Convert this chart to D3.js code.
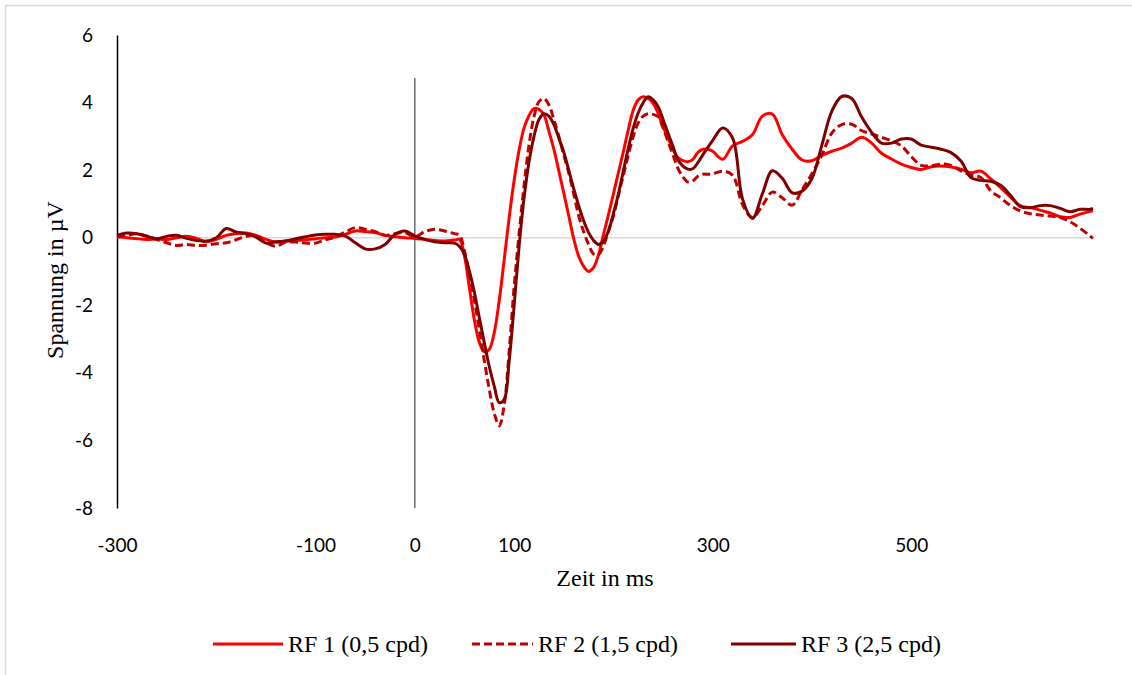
<!DOCTYPE html>
<html lang="de">
<head>
    <meta charset="UTF-8">
    <title>RF Potentiale</title>
    <script src="https://d3js.org/d3.v7.min.js"></script>
    <style>
        body { margin: 0; background: #fff; }
        svg { display: block; }
    </style>
</head>
<body>
    <div id="chart"></div>
    <script>
        // Zeitpunkte in ms
        var times = [
            -300, -290, -280, -270, -260, -250, -240, -230, -220, -210,
            -200, -190, -180, -170, -160, -150, -140, -130, -120, -110,
            -100, -90, -80, -70, -60, -50, -40, -30, -20, -10,
            0, 10, 20, 30, 40,
            45, 50, 55, 60, 65, 70, 75, 80, 85, 90, 95, 100,
            105, 110, 115, 120, 125, 130, 135, 140, 145, 150,
            155, 160, 165, 170, 175, 180, 185, 190, 195, 200,
            205, 210, 215, 220, 225, 230, 235, 240, 245, 250,
            255, 260, 265, 270, 275, 280, 285, 290, 295, 300,
            310, 320, 330, 340, 350, 360, 370, 380, 390, 400,
            410, 420, 430, 440, 450, 460, 470, 480, 490, 500,
            510, 520, 530, 540, 550, 560, 570, 580, 590, 600,
            610, 620, 630, 640, 650, 660, 670, 680,
            683
        ];

        var rf1 = [
            0.02, 0.0, -0.03, -0.05, -0.04, -0.05, 0.0, 0.04, -0.02, -0.12,
            -0.05, 0.07, 0.12, 0.14, 0.07, -0.05, -0.13, -0.1, -0.08, -0.06,
            -0.03, 0.0, 0.02, 0.1, 0.2, 0.18, 0.15, 0.07, 0.03, 0.0,
            -0.02, -0.05, -0.08, -0.1, -0.07,
            -0.05, -0.55, -1.5, -2.45, -3.1, -3.38, -3.3, -2.8, -1.85, -0.65, 0.6, 1.7,
            2.6, 3.25, 3.62, 3.82, 3.8, 3.64, 3.15, 2.62, 1.98, 1.32,
            0.65, -0.03, -0.55, -0.85, -1.0, -0.88, -0.5, 0.1, 0.68, 1.3,
            1.93, 2.55, 3.2, 3.78, 4.08, 4.17, 4.12, 3.98, 3.68, 3.29,
            2.95, 2.62, 2.37, 2.28, 2.25, 2.32, 2.52, 2.62, 2.62, 2.56,
            2.32, 2.72, 2.85, 3.05, 3.6, 3.66, 3.05, 2.62, 2.3, 2.28,
            2.44, 2.56, 2.65, 2.8, 2.97, 2.8, 2.5, 2.33, 2.18, 2.08,
            2.02, 2.1, 2.12, 2.09, 2.03, 1.92, 1.97, 1.74, 1.48, 1.2,
            0.94, 0.89, 0.81, 0.73, 0.62, 0.6, 0.7, 0.78,
            0.8
        ];

        var rf2 = [
            0.04, 0.07, 0.12, 0.05, -0.05, -0.15, -0.23, -0.2, -0.23, -0.22,
            -0.18, -0.15, -0.06, 0.04, 0.05, -0.15, -0.25, -0.13, -0.13, -0.16,
            -0.16, -0.06, 0.02, 0.17, 0.3, 0.25, 0.18, 0.07, 0.12, 0.15,
            0.03, 0.18, 0.25, 0.2, 0.12,
            0.08, -0.4, -1.1, -1.85, -2.75, -3.65, -4.5, -5.2, -5.57, -4.95, -3.35, -1.45,
            0.12, 1.55, 2.75, 3.58, 4.03, 4.12, 3.93, 3.5, 3.0, 2.45,
            1.92, 1.3, 0.65, 0.18, -0.2, -0.48, -0.5, -0.24, 0.2, 0.65,
            1.25, 1.85, 2.45, 3.0, 3.4, 3.6, 3.67, 3.65, 3.58, 3.25,
            2.85, 2.45, 2.05, 1.8, 1.65, 1.68, 1.82, 1.88, 1.88, 1.89,
            1.97, 1.85, 0.98, 0.6, 0.95, 1.35, 1.18, 0.96, 1.42, 1.9,
            2.45, 3.1, 3.35, 3.36, 3.17, 3.07, 2.97, 2.87, 2.72, 2.4,
            2.14, 2.13, 2.18, 2.14, 1.98, 1.85, 1.78, 1.39, 1.18, 0.95,
            0.79, 0.71, 0.67, 0.64, 0.6, 0.47, 0.28, 0.05,
            -0.02
        ];

        var rf3 = [
            0.07, 0.14, 0.12, 0.04, -0.03, 0.04, 0.07, -0.02, -0.08, -0.1,
            0.0, 0.27, 0.17, 0.12, 0.02, -0.16, -0.12, -0.1, -0.03, 0.03,
            0.08, 0.1, 0.1, 0.05, -0.15, -0.33, -0.33, -0.2, 0.1, 0.2,
            0.05, -0.05, -0.12, -0.15, -0.16,
            -0.26, -0.5, -1.0, -1.62, -2.38, -3.12, -3.82, -4.4, -4.88, -4.78, -3.65, -2.0,
            -0.25, 1.18, 2.25, 3.0, 3.5, 3.67, 3.6, 3.35, 2.95, 2.53,
            2.0, 1.45, 0.95, 0.5, 0.15, -0.08, -0.2, -0.1, 0.2, 0.72,
            1.3, 1.98, 2.65, 3.25, 3.7, 4.0, 4.17, 4.08, 3.88, 3.5,
            3.09, 2.7, 2.3, 2.12, 2.03, 2.04, 2.22, 2.45, 2.67, 2.88,
            3.25, 2.95, 1.15, 0.57, 1.3, 1.98, 1.76, 1.33, 1.38, 1.76,
            2.75, 3.75, 4.18, 4.12, 3.57, 3.12, 2.8, 2.8, 2.92, 2.92,
            2.74, 2.68, 2.62, 2.52, 2.27, 1.78, 1.7, 1.67, 1.55, 1.25,
            0.92, 0.89, 0.95, 0.95, 0.87, 0.77, 0.84, 0.84,
            0.87
        ];

        var seriesNames = ['RF 1 (0,5 cpd)', 'RF 2 (1,5 cpd)', 'RF 3 (2,5 cpd)'];
        var seriesColors = ['#ff0000', '#c00000', '#800000'];
        var seriesDash = [null, '8,4', null];
        var xTicks = [-300, -100, 0, 100, 300, 500];
        var yTicks = [-8, -6, -4, -2, 0, 2, 4, 6];

        var width = 1132, height = 675;

        var svg = d3.select('#chart')
            .append('svg')
            .attr('width', width)
            .attr('height', height);

        // Rahmen (nur links/oben sichtbar)
        svg.append('rect')
            .attr('x', 5.5)
            .attr('y', 5.5)
            .attr('width', 1200)
            .attr('height', 800)
            .attr('fill', 'none')
            .attr('stroke', '#d9d9d9')
            .attr('stroke-width', 1.5);

        var x = d3.scaleLinear().domain([-300, 683]).range([117, 1093]);
        var y = d3.scaleLinear().domain([-8, 6]).range([508, 35]);

        // plain hyphen like the original, not the unicode minus
        var plain = function(d) { return String(d); };

        // Nulllinie
        svg.append('line')
            .attr('x1', x(-300)).attr('x2', x(683))
            .attr('y1', y(0)).attr('y2', y(0))
            .attr('stroke', '#d9d9d9')
            .attr('stroke-width', 1.5);

        // y-Achse
        var yAxis = svg.append('g')
            .attr('transform', 'translate(' + x(-300) + ',0)')
            .call(d3.axisLeft(y).tickValues(yTicks).tickFormat(plain).tickSize(0).tickPadding(24));
        yAxis.select('.domain').attr('stroke', '#000').attr('stroke-width', 1.5);
        yAxis.selectAll('text')
            .attr('font-family', 'Lato, sans-serif')
            .attr('font-size', 19)
            .attr('fill', '#000');

        // x-Achsenbeschriftung (unten)
        var xAxis = svg.append('g')
            .attr('transform', 'translate(0,' + 531 + ')')
            .call(d3.axisBottom(x).tickValues(xTicks).tickFormat(plain).tickSize(0).tickPadding(8));
        xAxis.select('.domain').remove();
        xAxis.selectAll('text')
            .attr('font-family', 'Lato, sans-serif')
            .attr('font-size', 19)
            .attr('fill', '#000');

        // Linie bei 0 ms
        svg.append('line')
            .attr('x1', x(0)).attr('x2', x(0))
            .attr('y1', y(4.73)).attr('y2', y(-8))
            .attr('stroke', '#222')
            .attr('stroke-width', 1);

        var line = d3.line()
            .x(function(d) { return x(d[0]); })
            .y(function(d) { return y(d[1]); })
            .curve(d3.curveCatmullRom);

        var allSeries = [rf1, rf2, rf3];
        allSeries.forEach(function(vals, i) {
            var pts = times.map(function(t, j) { return [t, vals[j]]; });
            svg.append('path')
                .datum(pts)
                .attr('d', line)
                .attr('fill', 'none')
                .attr('stroke', seriesColors[i])
                .attr('stroke-width', 3)
                .attr('stroke-linejoin', 'round')
                .attr('stroke-dasharray', seriesDash[i]);
        });

        // Achsentitel
        svg.append('text')
            .attr('x', 605)
            .attr('y', 586)
            .attr('text-anchor', 'middle')
            .attr('font-family', '"Liberation Serif", serif')
            .attr('font-size', 24)
            .text('Zeit in ms');

        svg.append('text')
            .attr('transform', 'translate(63,280) rotate(-90)')
            .attr('text-anchor', 'middle')
            .attr('font-family', '"Liberation Serif", serif')
            .attr('font-size', 24)
            .text('Spannung in µV');

        // Legende
        var legendX = [213, 472, 731];
        var legendW = [70, 61, 65];
        seriesNames.forEach(function(name, i) {
            svg.append('line')
                .attr('x1', legendX[i]).attr('x2', legendX[i] + legendW[i])
                .attr('y1', 644).attr('y2', 644)
                .attr('stroke', seriesColors[i])
                .attr('stroke-width', 3)
                .attr('stroke-dasharray', seriesDash[i]);
            svg.append('text')
                .attr('x', legendX[i] + legendW[i] + 5)
                .attr('y', 652)
                .attr('font-family', '"Liberation Serif", serif')
                .attr('font-size', 24)
                .text(name);
        });
    </script>
</body>
</html>
